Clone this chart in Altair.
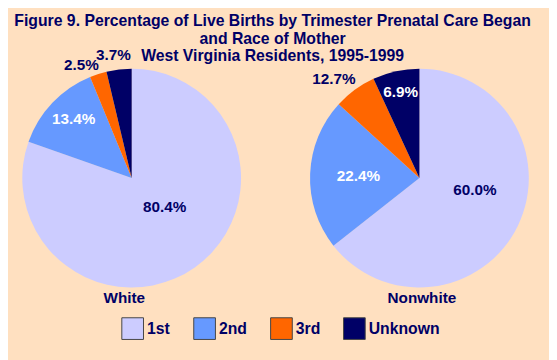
import altair as alt
import pandas as pd

categories = ["1st", "2nd", "3rd", "Unknown"]
races = ["White", "Nonwhite"]
white_share = [80.4, 13.4, 2.5, 3.7]
nonwhite_share = [64.4, 22.4, 6.3, 6.9]
white_labels = ["80.4%", "13.4%", "2.5%", "3.7%"]
nonwhite_labels = ["60.0%", "22.4%", "12.7%", "6.9%"]
title_lines = [
    "Figure 9. Percentage of Live Births by Trimester Prenatal Care Began",
    "and Race of Mother",
    "West Virginia Residents, 1995-1999",
]

slice_colors = ["#CCCCFF", "#6699FF", "#FF6600", "#000066"]
NAVY = "#000066"
BG = "#FFE0C0"
FONT = "Liberation Sans"
R = 111

rows = []
for race, shares, labels in [(races[0], white_share, white_labels),
                             (races[1], nonwhite_share, nonwhite_labels)]:
    for i, (c, s, l) in enumerate(zip(categories, shares, labels)):
        rows.append(dict(race=race, cat=c, idx=i, share=s, label=l))
df = pd.DataFrame(rows)

legend = alt.Legend(
    orient="none", legendX=115, legendY=311, direction="horizontal", title=None,
    symbolType="square", symbolSize=484, symbolStrokeColor="#444444",
    symbolStrokeWidth=1, symbolOpacity=1, labelFont=FONT, labelFontSize=16,
    labelFontWeight="bold", labelColor=NAVY, labelOffset=3, columnPadding=21,
    padding=0,
)
color = alt.Color("cat:N", scale=alt.Scale(domain=categories, range=slice_colors),
                  legend=legend)

# label placement styles per pie: (category, radius, align, dx, dy, text colour)
label_styles = {
    "White": [("1st", 44, "center", 8, -6, NAVY), ("2nd", 84, "center", 2, -2, "white"),
              ("3rd", 119, "right", 3, -1, NAVY), ("Unknown", 126, "center", -4, 0, NAVY)],
    "Nonwhite": [("1st", 56, "center", 6, -12, NAVY), ("2nd", 62, "center", 0, 0, "white"),
                 ("3rd", 120, "right", 6, -4, NAVY), ("Unknown", 89, "center", 0, 0, "white")],
}
centers = {"White": (125.5, 170), "Nonwhite": (417.5, 170)}
name_pos = {"White": (118, 291.5), "Nonwhite": (420, 292)}

layers = []
for race in races:
    cx, cy = centers[race]
    base = alt.Chart(df).transform_filter(alt.datum.race == race)
    layers.append(
        base.mark_arc(outerRadius=R).encode(
            theta=alt.Theta("share:Q", stack=True),
            color=color,
            order=alt.Order("idx:Q"),
            x=alt.value(cx), y=alt.value(cy),
        )
    )
    for cat, rad, align, dx, dy, tc in label_styles[race]:
        layers.append(
            base.mark_text(radius=rad, align=align, baseline="middle", dx=dx, dy=dy,
                           color=tc, font=FONT, fontSize=15.5, fontWeight="bold").encode(
                theta=alt.Theta("share:Q", stack=True),
                order=alt.Order("idx:Q"),
                text=alt.condition(alt.datum.cat == cat, alt.Text("label:N"), alt.value("")),
                x=alt.value(cx), y=alt.value(cy),
            )
        )
    nx, ny = name_pos[race]
    layers.append(
        base.transform_filter(alt.datum.idx == 0).mark_text(
            font=FONT, fontSize=15.5, fontWeight="bold", color=NAVY, baseline="middle"
        ).encode(text="race:N", x=alt.value(nx), y=alt.value(ny))
    )

chart = alt.layer(*layers).properties(
    width=549, height=352,
    autosize=alt.AutoSizeParams(type="none"),
    padding=0,
    background=BG,
    title=alt.TitleParams(
        text=title_lines, anchor="middle", frame="group", orient="top", offset=0,
        baseline="alphabetic", dy=67, dx=-6, font=FONT, fontSize=16,
        fontWeight="bold", color=NAVY, lineHeight=17.5,
    ),
).configure_view(stroke=None)

chart.save("out.html", embed_options={"renderer": "svg", "actions": False})
